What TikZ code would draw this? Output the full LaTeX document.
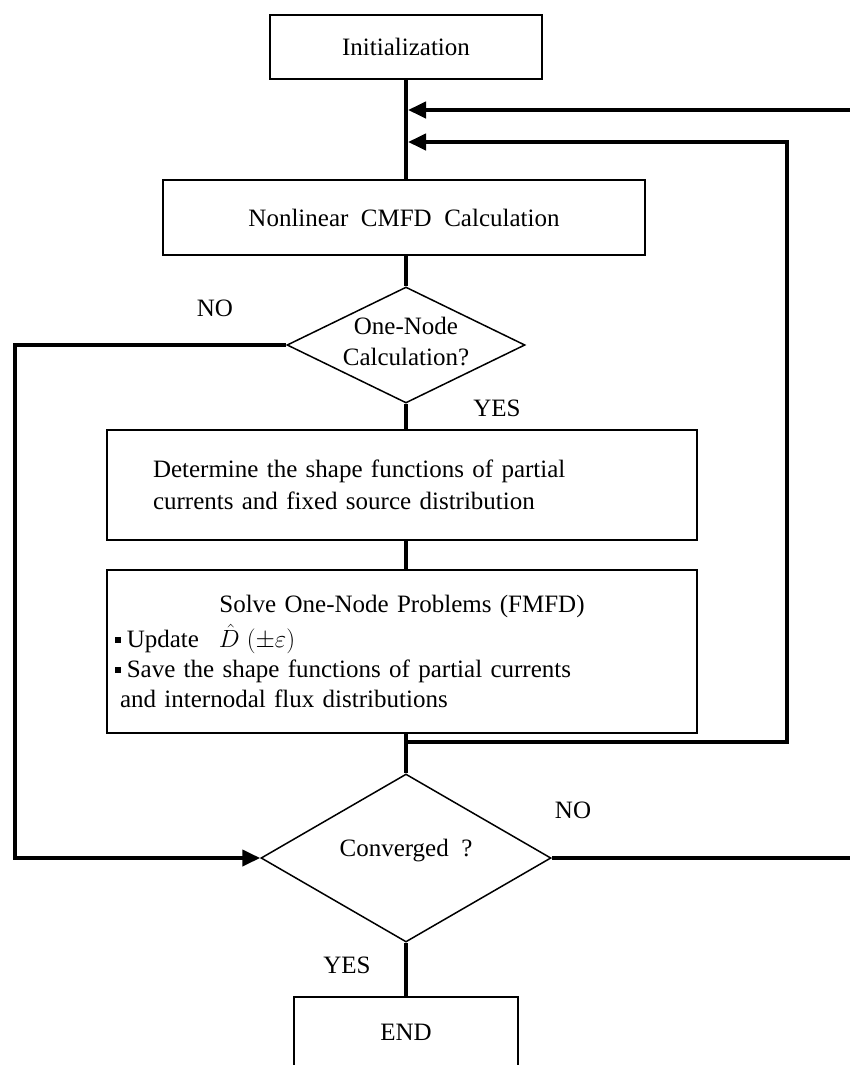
\documentclass[tikz,border=0pt]{standalone}
\usepackage{fontspec}
\setmainfont{Liberation Serif}[WordSpace=2]
\usetikzlibrary{shapes.geometric,arrows.meta}
\newcommand\mybul{\rule[0.2em]{0.22em}{0.22em}\hspace{0.25em}}
\begin{document}
\begin{tikzpicture}[x=1pt,y=-1pt,
  box/.style={draw, line width=1.5pt, rectangle, inner sep=0pt, font=\fontsize{25}{32}\selectfont},
  dec/.style={draw, line width=1.5pt, diamond, inner sep=0pt},
  txt/.style={font=\fontsize{25}{31}\selectfont, inner sep=0pt, align=center},
  conn/.style={line width=4pt},
  arr/.style={conn, -{Triangle[length=18pt,width=16pt]}},
]
\useasboundingbox (0,0) rectangle (849,1065);
\fill[white] (0,0) rectangle (849,1065);

% nodes
\node[box, minimum width=272, minimum height=64] (init) at (406,47) {Initialization};
\node[box, minimum width=482, minimum height=75] (cmfd) at (404,217.5) {Nonlinear CMFD Calculation};
\node[dec, minimum width=238, minimum height=116] (d1) at (406,345) {};
\node[txt] (d1t) at (406,341) {One-Node\\Calculation?};
\node[box, minimum width=590, minimum height=110, text width=498, inner xsep=46pt, align=left] (det) at (402,485)
  {Determine the shape functions of partial\\currents and fixed source distribution};
\node[box, minimum width=590, minimum height=163, text width=574, inner xsep=8pt, align=left,
      font=\fontsize{25}{30}\selectfont] (solve) at (402,651.5)
  {\makebox[\linewidth][c]{Solve One-Node Problems (FMFD)}\\[5pt]
   \mybul Update\hspace{20pt}\smash{$\hat{D}$}$\;(\pm\varepsilon)$\\
   \mybul Save the shape functions of partial currents\\
   \hspace{5pt}and internodal flux distributions};
\node[dec, minimum width=290, minimum height=168] (d2) at (406,858) {};
\node[txt] (d2t) at (406,851) {Converged ?};
\node[box, minimum width=224, minimum height=120] (end) at (406,1057) {};
\node[txt] (endt) at (406,1032) {END};

% labels
\node[txt] (no1) at (215,308) {NO};
\node[txt] (yes1) at (497,408) {YES};
\node[txt] (no2) at (573,810) {NO};
\node[txt] (yes2) at (347,965) {YES};

% coordinates
\coordinate (rA) at (852,110);
\coordinate (jA) at (408,110);
\coordinate (jB) at (408,142);
\coordinate (rB) at (787,142);
\coordinate (lB) at (787,742);
\coordinate (jL) at (404,742);
\coordinate (nl1) at (15,345);
\coordinate (nl2) at (15,858);
\coordinate (rC) at (852,858);

% main flow (vertical spine at the x of d1)
\draw[conn] (init.south) -- (init.south |- cmfd.north);
\draw[conn] (cmfd.south -| d1) -- (d1.north);
\draw[conn] (d1.south) -- (d1.south |- det.north);
\draw[conn] (det.south -| d1) -- (solve.north -| d1);
\draw[conn] (solve.south -| d1) -- (d2.north);
\draw[conn] (d2.south) -- (end.north);

% loops
\draw[arr] (rA) -- (jA);
\draw[arr] (jL) -- (lB) -- (rB) -- (jB);
\draw[arr] (d1.west) -- (nl1) -- (nl2) -- (d2.west);
\draw[conn] (d2.east) -- (rC);
\end{tikzpicture}
\end{document}
